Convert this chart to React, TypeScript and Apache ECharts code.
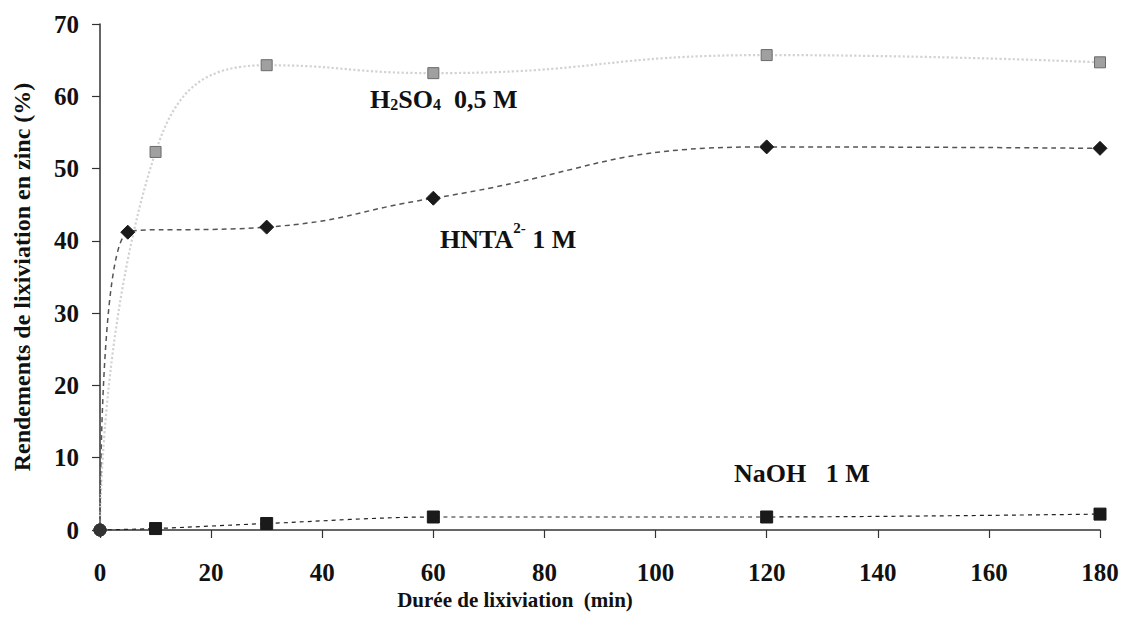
import React, { useEffect, useRef } from "react";
import * as echarts from "echarts";

const timeH2SO4 = [0, 10, 30, 60, 120, 180];
const valH2SO4 = [0, 52.3, 64.3, 63.2, 65.7, 64.7];
const timeHNTA = [0, 5, 30, 60, 120, 180];
const valHNTA = [0, 41.2, 41.9, 45.9, 53.0, 52.8];
const timeNaOH = [0, 10, 30, 60, 120, 180];
const valNaOH = [0, 0.2, 0.9, 1.8, 1.8, 2.2];

const xTitle = "Durée de lixiviation  (min)";
const yTitle = "Rendements de lixiviation en zinc (%)";

const FONT = "'Liberation Serif', 'Times New Roman', serif";

function pairs(xs: number[], ys: number[]) {
  return xs.map((x, i) =>
    x === 0
      ? { value: [x, ys[i]], symbol: "circle", symbolSize: 12, itemStyle: { color: "#333", borderColor: "#333" } }
      : { value: [x, ys[i]] }
  );
}

export default function App() {
  const ref = useRef<HTMLDivElement>(null);
  useEffect(() => {
    document.body.style.margin = "0";
    const chart = echarts.init(ref.current!, null, { renderer: "svg" });
    const labelStyle = { fontFamily: FONT, fontWeight: "bold", fontSize: 25, color: "#111" };
    const big = { fontFamily: FONT, fontWeight: "bold", fontSize: 26, fill: "#111" };
    chart.setOption({
      animation: false,
      backgroundColor: "#fff",
      grid: { left: 100, right: 30, top: 24, bottom: 99 },
      xAxis: {
        type: "value",
        min: 0,
        max: 180,
        interval: 20,
        name: xTitle,
        nameLocation: "middle",
        nameGap: 58,
        nameTextStyle: { fontFamily: FONT, fontWeight: "bold", fontSize: 21, color: "#111", padding: [0, 170, 0, 0] },
        axisLine: { onZero: false, lineStyle: { color: "#333", width: 1.5 } },
        axisTick: { inside: false, length: 8, lineStyle: { color: "#333", width: 1.2 } },
        axisLabel: { ...labelStyle, margin: 30 },
        splitLine: { show: false },
      },
      yAxis: {
        type: "value",
        min: 0,
        max: 70,
        interval: 10,
        name: yTitle,
        nameLocation: "middle",
        nameRotate: 90,
        nameGap: 66,
        nameTextStyle: { fontFamily: FONT, fontWeight: "bold", fontSize: 24, color: "#111" },
        axisLine: { show: true, lineStyle: { color: "#333", width: 1.5 } },
        axisTick: { show: true, length: 8, lineStyle: { color: "#333", width: 1.2 } },
        axisLabel: { ...labelStyle, margin: 21 },
        splitLine: { show: false },
      },
      series: [
        {
          name: "H2SO4 0,5 M",
          type: "line",
          smooth: 0.5,
          data: pairs(timeH2SO4, valH2SO4),
          symbol: "rect",
          symbolSize: 11,
          itemStyle: { color: "#a0a0a0", borderColor: "#6a6a6a", borderWidth: 1 },
          lineStyle: { color: "#d2d2d2", width: 2.2, type: "dotted" },
          z: 2,
        },
        {
          name: "HNTA 1 M",
          type: "line",
          smooth: 0.5,
          data: pairs(timeHNTA, valHNTA),
          symbol: "diamond",
          symbolSize: 14,
          itemStyle: { color: "#1a1a1a", borderColor: "#1a1a1a" },
          lineStyle: { color: "#555", width: 1.5, type: [5, 4] },
          z: 3,
        },
        {
          name: "NaOH 1 M",
          type: "line",
          smooth: 0.3,
          data: pairs(timeNaOH, valNaOH),
          symbol: "rect",
          symbolSize: 12,
          itemStyle: { color: "#1a1a1a", borderColor: "#1a1a1a" },
          lineStyle: { color: "#222", width: 1.2, type: [4, 4] },
          z: 4,
        },
      ],
      graphic: [
        {
          type: "text",
          left: 370,
          top: 86,
          style: {
            text: "{a|H}{s|2}{a|SO}{s|4}{a|  0,5 M}",
            rich: {
              a: { ...big, verticalAlign: "bottom", lineHeight: 30 },
              s: { ...big, fontSize: 16, verticalAlign: "bottom", lineHeight: 26 },
            },
          },
        },
        {
          type: "text",
          left: 440,
          top: 220,
          style: {
            text: "{a|HNTA}{p|2-}{a| 1 M}",
            rich: {
              a: { ...big, verticalAlign: "bottom", lineHeight: 32 },
              p: { ...big, fontSize: 15, verticalAlign: "top", lineHeight: 20 },
            },
          },
        },
        {
          type: "text",
          left: 734,
          top: 460,
          style: { text: "NaOH   1 M", ...big },
        },
      ],
    });
    return () => chart.dispose();
  }, []);
  return <div ref={ref} style={{ width: 1130, height: 629 }} />;
}
